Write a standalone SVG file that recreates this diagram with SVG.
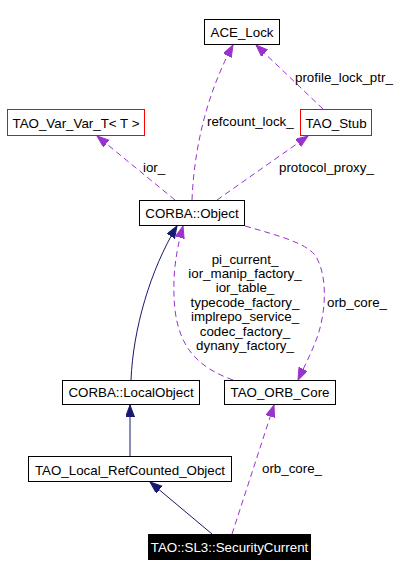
<svg xmlns="http://www.w3.org/2000/svg" width="419" height="576" viewBox="0 0 419 576">
<style>
text { font-family: "Liberation Sans", Arial, sans-serif; font-size: 13.33px; fill: #000; }
.c { text-anchor: middle; }
.box { fill: #fff; stroke: #000; stroke-width: 1; }
.red { fill: #fff; stroke: #ff0000; stroke-width: 1; }
.dark { fill: #000; stroke: #000; }
.inh { fill: none; stroke: #191970; stroke-width: 1; marker-end: url(#an); }
.use { fill: none; stroke: #9a32cd; stroke-width: 1; stroke-dasharray: 6,4; marker-end: url(#ap); }
</style>
<defs>
<marker id="an" markerUnits="userSpaceOnUse" markerWidth="13" markerHeight="10" refX="12" refY="4.5" orient="auto"><path d="M0,0 L12,4.5 L0,9 z" fill="#191970" stroke="#191970"/></marker>
<marker id="ap" markerUnits="userSpaceOnUse" markerWidth="13" markerHeight="10" refX="12" refY="4.5" orient="auto"><path d="M0,0 L12,4.5 L0,9 z" fill="#9a32cd" stroke="#9a32cd"/></marker>
</defs>
<rect width="419" height="576" fill="#fff"/>
<g id="edges">
<path class="use" d="M192,200 C194,150 206,95 233,45"/>
<path class="use" d="M323,109 L256,45"/>
<path class="use" d="M175,200 L97,136"/>
<path class="use" d="M217,200 L308,136"/>
<path class="inh" d="M131,380 C133,330 150,270 177,226"/>
<path class="use" d="M233,380 C200,368 180,350 175,310 C172,280 175,255 183,226"/>
<path class="use" d="M245,226 C280,236 305,243 315,255 C328,275 326,310 318,335 C312,352 305,365 298,380"/>
<path class="inh" d="M130,456 L130,405"/>
<path class="inh" d="M212,534 L150,482"/>
<path class="use" d="M232,534 L274,405"/>
<text x="207" y="126">refcount_lock_</text>
<text x="295" y="82">profile_lock_ptr_</text>
<text x="143" y="172">ior_</text>
<text x="279" y="172">protocol_proxy_</text>
<text class="c" x="245" y="264">pi_current_</text>
<text class="c" x="245" y="278">ior_manip_factory_</text>
<text class="c" x="245" y="292">ior_table_</text>
<text class="c" x="245" y="307">typecode_factory_</text>
<text class="c" x="245" y="321">implrepo_service_</text>
<text class="c" x="245" y="336">codec_factory_</text>
<text class="c" x="245" y="350">dynany_factory_</text>
<text x="327" y="307">orb_core_</text>
<text x="262" y="473">orb_core_</text>
</g>
<g id="ACE_Lock"><rect class="box" x="204.5" y="19.5" width="75" height="25"/><text class="c" x="242" y="37">ACE_Lock</text></g>
<g id="TAO_Var_Var_T"><rect class="red" x="7.5" y="109.5" width="137" height="26"/><text class="c" x="76" y="128">TAO_Var_Var_T&lt; T &gt;</text></g>
<g id="TAO_Stub"><rect class="red" x="300.5" y="109.5" width="71" height="26"/><text class="c" x="336" y="128">TAO_Stub</text></g>
<g id="CORBA_Object"><rect class="box" x="139.5" y="200.5" width="105" height="25"/><text class="c" x="192" y="218">CORBA::Object</text></g>
<g id="CORBA_LocalObject"><rect class="box" x="62.5" y="380.5" width="137" height="24"/><text class="c" x="131" y="397">CORBA::LocalObject</text></g>
<g id="TAO_ORB_Core"><rect class="box" x="224.5" y="380.5" width="111" height="24"/><text class="c" x="280" y="397">TAO_ORB_Core</text></g>
<g id="TAO_Local_RefCounted_Object"><rect class="box" x="28.5" y="456.5" width="203" height="25"/><text class="c" x="130" y="475">TAO_Local_RefCounted_Object</text></g>
<g id="TAO_SL3_SecurityCurrent"><rect class="dark" x="148.5" y="534.5" width="162" height="25"/><text class="c" x="229.5" y="552" style="fill:#fff">TAO::SL3::SecurityCurrent</text></g>
</svg>
